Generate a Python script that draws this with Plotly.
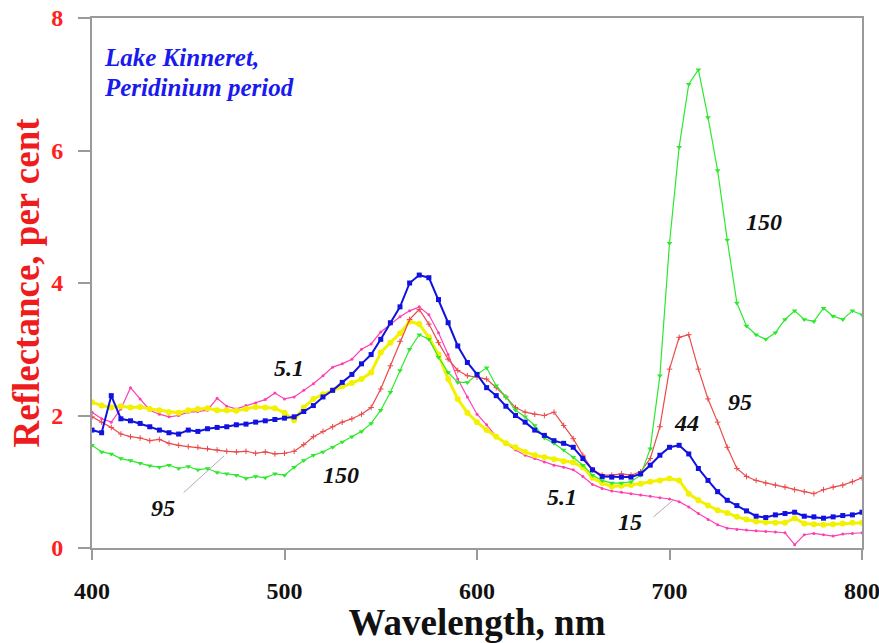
import plotly.graph_objects as go

wavelength = list(range(400, 805, 5))

refl_150 = [1.55, 1.45, 1.42, 1.35, 1.32, 1.28, 1.24, 1.22, 1.25, 1.20,
            1.23, 1.18, 1.20, 1.14, 1.12, 1.10, 1.05, 1.08, 1.06, 1.12,
            1.10, 1.22, 1.32, 1.40, 1.45, 1.52, 1.60, 1.68, 1.76, 1.88,
            2.08, 2.35, 2.68, 3.00, 3.22, 3.15, 2.88, 2.65, 2.50, 2.50,
            2.62, 2.72, 2.45, 2.28, 2.08, 1.98, 1.85, 1.66, 1.58, 1.48,
            1.37, 1.25, 1.10, 1.02, 0.98, 0.98, 1.00, 1.10, 1.50, 2.60,
            4.60, 6.05, 7.00, 7.22, 6.50, 5.70, 4.65, 3.70, 3.35, 3.22,
            3.15, 3.25, 3.45, 3.58, 3.45, 3.42, 3.62, 3.50, 3.45, 3.58, 3.52]

refl_95 = [1.98, 1.90, 1.82, 1.72, 1.68, 1.66, 1.62, 1.64, 1.58, 1.55,
           1.53, 1.52, 1.50, 1.48, 1.46, 1.45, 1.46, 1.43, 1.45, 1.42,
           1.43, 1.46, 1.56, 1.68, 1.76, 1.83, 1.90, 1.95, 2.02, 2.12,
           2.40, 2.75, 3.12, 3.45, 3.60, 3.38, 3.10, 2.85, 2.68, 2.60,
           2.58, 2.55, 2.42, 2.28, 2.12, 2.05, 2.02, 2.00, 2.05, 1.85,
           1.65, 1.40, 1.18, 1.10, 1.10, 1.12, 1.10, 1.15, 1.35, 1.83,
           2.70, 3.18, 3.22, 2.70, 2.25, 1.90, 1.52, 1.20, 1.08, 1.02,
           0.98, 0.95, 0.92, 0.88, 0.85, 0.82, 0.88, 0.92, 0.95, 1.00, 1.06]

refl_44 = [1.78, 1.74, 2.30, 1.95, 1.92, 1.88, 1.83, 1.78, 1.74, 1.72,
           1.78, 1.76, 1.80, 1.82, 1.83, 1.86, 1.87, 1.90, 1.92, 1.94,
           1.96, 1.98, 2.06, 2.15, 2.28, 2.38, 2.50, 2.62, 2.78, 2.92,
           3.15, 3.40, 3.64, 4.00, 4.12, 4.08, 3.75, 3.40, 3.05, 2.80,
           2.62, 2.42, 2.30, 2.14, 2.00, 1.90, 1.78, 1.70, 1.62, 1.58,
           1.52, 1.35, 1.18, 1.08, 1.07, 1.07, 1.07, 1.12, 1.25, 1.40,
           1.52, 1.55, 1.42, 1.20, 1.02, 0.85, 0.72, 0.64, 0.56, 0.48,
           0.46, 0.50, 0.52, 0.54, 0.48, 0.47, 0.45, 0.47, 0.49, 0.50, 0.54]

refl_5_1 = [2.05, 1.95, 1.90, 2.10, 2.42, 2.25, 2.08, 2.02, 1.98, 2.00,
            2.05, 2.06, 2.08, 2.26, 2.14, 2.10, 2.15, 2.19, 2.24, 2.34,
            2.25, 2.28, 2.38, 2.48, 2.60, 2.73, 2.78, 2.85, 3.00, 3.08,
            3.26, 3.38, 3.49, 3.58, 3.64, 3.52, 3.25, 2.92, 2.55, 2.28,
            2.02, 1.86, 1.68, 1.58, 1.48, 1.40, 1.35, 1.30, 1.25, 1.22,
            1.18, 1.08, 0.96, 0.90, 0.86, 0.84, 0.82, 0.80, 0.78, 0.76,
            0.74, 0.70, 0.62, 0.52, 0.43, 0.35, 0.30, 0.28, 0.27, 0.26,
            0.25, 0.24, 0.23, 0.05, 0.20, 0.22, 0.20, 0.18, 0.21, 0.22, 0.23]

refl_15 = [2.20, 2.15, 2.12, 2.14, 2.12, 2.13, 2.10, 2.08, 2.05, 2.04,
           2.08, 2.10, 2.11, 2.08, 2.08, 2.07, 2.10, 2.13, 2.12, 2.11,
           2.04, 1.93, 2.12, 2.25, 2.32, 2.38, 2.44, 2.49, 2.55, 2.65,
           2.95, 3.10, 3.24, 3.42, 3.38, 3.18, 2.92, 2.55, 2.25, 2.04,
           1.90, 1.78, 1.68, 1.58, 1.52, 1.45, 1.40, 1.37, 1.34, 1.31,
           1.29, 1.22, 1.06, 0.98, 0.93, 0.94, 0.95, 0.97, 1.00, 1.02,
           1.05, 1.02, 0.82, 0.72, 0.64, 0.57, 0.53, 0.47, 0.43, 0.40,
           0.39, 0.38, 0.38, 0.45, 0.37, 0.36, 0.35, 0.36, 0.37, 0.38, 0.38]

x_ticks = [400, 500, 600, 700, 800]
y_ticks = [0, 2, 4, 6, 8]

SERIF = "Liberation Serif, serif"

fig = go.Figure()

series = [
    ("5.1", refl_5_1, "#ff3fb4", 1.2, dict(symbol="circle", size=3)),
    ("15", refl_15, "#f2f200", 3.0, dict(symbol="circle", size=6)),
    ("95", refl_95, "#ea4a4a", 1.2, dict(symbol="cross-thin", size=4, line=dict(width=1, color="#ea4a4a"))),
    ("150", refl_150, "#2ee82e", 1.2, dict(symbol="triangle-down", size=5)),
    ("44", refl_44, "#1212e0", 2.0, dict(symbol="square", size=5)),
]
for name, y, col, lw, mk in series:
    mk = dict(mk)
    mk.setdefault("color", col)
    fig.add_trace(go.Scatter(x=wavelength, y=y, mode="lines+markers", name=name,
                             line=dict(color=col, width=lw), marker=mk))

labels = [
    ("150", 749.1, 4.92),
    ("5.1", 502.3, 2.72),
    ("150", 529.4, 1.10),
    ("95", 436.9, 0.60),
    ("5.1", 644.2, 0.77),
    ("15", 679.5, 0.39),
    ("44", 708.6, 1.89),
    ("95", 736.6, 2.20),
]
for txt, x, y in labels:
    fig.add_annotation(x=x, y=y, text=txt, showarrow=False,
                       font=dict(family=SERIF, size=24, color="#111111",
                                 weight="bold", style="italic"))

# leader lines
fig.add_annotation(x=468.6, y=1.39, ax=446.8, ay=0.815, axref="x", ayref="y",
                   text="", showarrow=True, arrowhead=0, arrowwidth=0.8, arrowcolor="#999999")
fig.add_annotation(x=701.8, y=0.72, ax=690.9, ay=0.45, axref="x", ayref="y",
                   text="", showarrow=True, arrowhead=0, arrowwidth=0.8, arrowcolor="#999999")

for txt, yy in [("Lake Kinneret,", 0.925), ("Peridinium period", 0.868)]:
    fig.add_annotation(xref="paper", yref="paper", x=0.013, y=yy, xanchor="left", yanchor="middle",
                       text=txt, showarrow=False,
                       font=dict(family=SERIF, size=25, color="#1a1aee",
                                 weight="bold", style="italic"))

fig.update_layout(
    width=879, height=643,
    margin=dict(l=92, r=17, t=18, b=95),
    paper_bgcolor="white", plot_bgcolor="white",
    showlegend=False,
    xaxis=dict(range=[400, 800], tickvals=x_ticks, ticktext=[str(v) for v in x_ticks],
               showgrid=False, zeroline=False, showline=True, mirror=True,
               linecolor="#9a9a9a", linewidth=2, ticks="outside", ticklen=10, tickwidth=1.5,
               tickcolor="#9a9a9a", ticklabelstandoff=10, ticklabeloverflow="allow",
               tickfont=dict(family=SERIF, size=24, color="#111111", weight="bold"),
               title=dict(text="Wavelength, nm", standoff=11,
                          font=dict(family=SERIF, size=37, color="#111111", weight="bold")),
               automargin=False),
    yaxis=dict(range=[0, 8], tickvals=y_ticks, ticktext=[str(v) for v in y_ticks],
               showgrid=False, zeroline=False, showline=True, mirror=True,
               linecolor="#9a9a9a", linewidth=2, ticks="outside", ticklen=12, tickwidth=1.5,
               tickcolor="#9a9a9a", ticklabelstandoff=10, ticklabeloverflow="allow",
               tickfont=dict(family=SERIF, size=24, color="#ff2020", weight="bold"),
               title=dict(text="Reflectance, per cent", standoff=0,
                          font=dict(family=SERIF, size=37, color="#ee1c1c", weight="bold")),
               automargin=False),
)

fig.write_html("out.html")
